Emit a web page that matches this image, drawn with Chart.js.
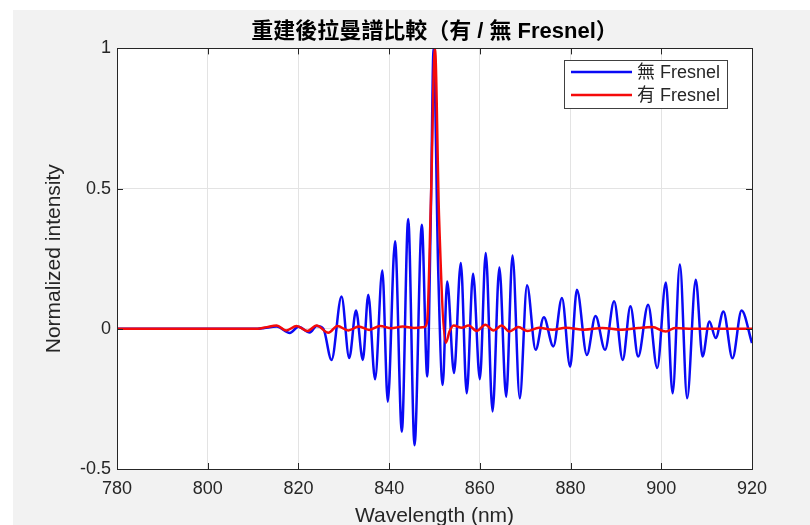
<!DOCTYPE html>
<html>
<head>
<meta charset="utf-8">
<script src="https://cdn.jsdelivr.net/npm/chart.js@4.4.1/dist/chart.umd.min.js"></script>
<style>
  html, body { margin: 0; padding: 0; background: #fff; }
  canvas { display: block; }
</style>
</head>
<body>
<canvas id="chart" width="810" height="525"></canvas>
<script>
// 無 Fresnel (blue): turning points
const noFresnelWl = [
  780, 811, 812.5, 815.2, 818.1, 820, 822.5, 824, 825.5,
  827.3, 829.5, 831.2, 832.7, 834.2, 835.4, 836.9, 838.5, 839.7, 841.3,
  842.8, 844.2, 845.6, 847.2, 848.4, 849.2, 849.8, 850.8, 851.8,
  852.8, 854.3, 855.8, 857.1, 858.5, 860, 861.3, 862.8, 864.3, 865.8,
  867.2, 868.8, 870.4, 872.3, 874.1, 876.2, 878.1, 879.9, 881.4, 883.6,
  885.5, 887.6, 889.6, 891.5, 893.2, 894.9, 897.1, 899.1, 901.0, 902.5,
  904.1, 905.7, 907.6, 909.1, 910.6, 912.0, 913.7, 915.7, 917.7, 920
];
const noFresnelVal = [
  0, 0, 0.003, 0.008, -0.015, 0.007, -0.013, 0.01, 0,
  -0.111, 0.115, -0.104, 0.065, -0.111, 0.121, -0.18, 0.208, -0.26, 0.312,
  -0.367, 0.392, -0.415, 0.371, -0.17, 0.42, 1.0, 0.22, -0.2,
  0.169, -0.158, 0.235, -0.23, 0.196, -0.18, 0.27, -0.295, 0.219, -0.242,
  0.261, -0.248, 0.155, -0.075, 0.041, -0.063, 0.110, -0.135, 0.139, -0.093,
  0.046, -0.075, 0.098, -0.111, 0.08, -0.099, 0.086, -0.14, 0.165, -0.23,
  0.229, -0.2475, 0.175, -0.099, 0.026, -0.033, 0.062, -0.105, 0.065, -0.051
];

// 有 Fresnel (red)
const withFresnelWl = [
  780, 811, 813, 815.2, 817.3, 819.6, 822, 824, 826.6, 828.6, 831, 833.3,
  835.6, 838, 840.5, 843, 845.5, 847.8, 848.4, 849.2, 850.1, 851.0, 852.5,
  853.3, 854.2, 856, 857.5, 859.3, 861.2, 863, 864.8, 866.5, 868.5, 870.5,
  873, 876, 879, 883, 887, 891, 895, 898, 901, 903, 907, 920
];
const withFresnelVal = [
  0, 0, 0.006, 0.012, -0.006, 0.01, -0.008, 0.012, -0.014, 0.01, -0.006, 0.008,
  -0.004, 0.01, 0.002, 0.008, 0.003, 0.006, 0.03, 0.45, 1.0, 0.4, -0.05,
  -0.01, 0.012, 0.004, 0.012, -0.008, 0.014, -0.006, 0.012, -0.01, 0.006, -0.008,
  0.004, -0.003, 0.004, -0.003, 0.003, -0.003, 0.003, 0.006, -0.01, 0.003, 0, 0
];

const xTicks = [780, 800, 820, 840, 860, 880, 900, 920];
const yTicks = [-0.5, 0, 0.5, 1];
const seriesNames = ['無 Fresnel', '有 Fresnel'];
const seriesColors = ['#0a0af5', '#f50a0a'];
const chartTitle = '重建後拉曼譜比較（有 / 無 Fresnel）';

const FONT = "'Liberation Sans', Arial, 'Noto Sans CJK TC', sans-serif";
const AXIS = '#262626';

const toPoints = (xs, ys) => xs.map((x, i) => ({ x: x, y: ys[i] }));

// figure background, axes box, inward tick marks and the boxed legend
const matlabFrame = {
  id: 'matlabFrame',
  beforeDraw(chart) {
    const { ctx, chartArea: a } = chart;
    ctx.save();
    ctx.fillStyle = '#ffffff';
    ctx.fillRect(0, 0, chart.width, chart.height);
    ctx.fillStyle = '#f2f2f2';
    ctx.fillRect(13, 10, chart.width - 13, chart.height - 10);
    ctx.fillStyle = '#ffffff';
    ctx.fillRect(a.left, a.top, a.right - a.left, a.bottom - a.top);
    ctx.restore();
  },
  afterDatasetsDraw(chart) {
    const { ctx, chartArea: a, scales } = chart;
    ctx.save();
    ctx.strokeStyle = AXIS;
    ctx.lineWidth = 1;
    ctx.beginPath();
    xTicks.forEach(v => {
      const px = Math.round(scales.x.getPixelForValue(v)) + 0.5;
      ctx.moveTo(px, a.bottom); ctx.lineTo(px, a.bottom - 6);
      ctx.moveTo(px, a.top); ctx.lineTo(px, a.top + 6);
    });
    yTicks.forEach(v => {
      const py = Math.round(scales.y.getPixelForValue(v)) + 0.5;
      ctx.moveTo(a.left, py); ctx.lineTo(a.left + 6, py);
      ctx.moveTo(a.right, py); ctx.lineTo(a.right - 6, py);
    });
    ctx.stroke();
    ctx.strokeRect(Math.round(a.left) + 0.5, Math.round(a.top) + 0.5,
      Math.round(a.right - a.left), Math.round(a.bottom - a.top));

    // legend
    const lx = Math.round(a.right) - 188, ly = Math.round(a.top) + 12;
    ctx.fillStyle = '#ffffff';
    ctx.fillRect(lx, ly, 163, 48);
    ctx.strokeStyle = '#404040';
    ctx.strokeRect(lx + 0.5, ly + 0.5, 163, 48);
    ctx.font = '18px ' + FONT;
    ctx.textBaseline = 'middle';
    seriesNames.forEach((name, i) => {
      const y = ly + 12 + i * 23;
      ctx.strokeStyle = seriesColors[i];
      ctx.lineWidth = 2.5;
      ctx.beginPath();
      ctx.moveTo(lx + 7, y); ctx.lineTo(lx + 68, y);
      ctx.stroke();
      ctx.fillStyle = AXIS;
      ctx.fillText(name, lx + 73, y + 1);
    });
    ctx.restore();
  }
};

new Chart(document.getElementById('chart'), {
  type: 'line',
  data: {
    datasets: [
      {
        label: seriesNames[0],
        data: toPoints(noFresnelWl, noFresnelVal),
        borderColor: seriesColors[0],
        borderWidth: 2.5,
        cubicInterpolationMode: 'monotone',
        pointRadius: 0,
        order: 2
      },
      {
        label: seriesNames[1],
        data: toPoints(withFresnelWl, withFresnelVal),
        borderColor: seriesColors[1],
        borderWidth: 2.5,
        cubicInterpolationMode: 'monotone',
        pointRadius: 0,
        order: 1
      }
    ]
  },
  options: {
    responsive: false,
    animation: false,
    devicePixelRatio: 1,
    layout: { padding: { left: 0, right: 58, top: 0, bottom: 0 } },
    plugins: {
      legend: { display: false },
      tooltip: { enabled: false },
      title: {
        display: true,
        text: chartTitle,
        fullSize: false,
        color: '#000000',
        font: { family: FONT, size: 22, weight: 'bold' },
        padding: { top: 19, bottom: 3 }
      }
    },
    scales: {
      x: {
        type: 'linear',
        min: 780,
        max: 920,
        afterBuildTicks: s => { s.ticks = xTicks.map(v => ({ value: v })); },
        afterFit: s => { s.height = 56; },
        grid: { color: '#e3e3e3', drawTicks: false },
        border: { display: false },
        ticks: { color: AXIS, padding: 9, font: { family: FONT, size: 18 } },
        title: {
          display: true,
          text: 'Wavelength (nm)',
          color: AXIS,
          font: { family: FONT, size: 21, lineHeight: 0.8 },
          padding: 0
        }
      },
      y: {
        min: -0.5,
        max: 1,
        afterBuildTicks: s => { s.ticks = yTicks.map(v => ({ value: v })); },
        afterFit: s => { s.width = 117; },
        grid: { color: '#e3e3e3', drawTicks: false },
        border: { display: false },
        ticks: {
          color: AXIS,
          padding: 6,
          font: { family: FONT, size: 18 },
          callback: v => String(v)
        },
        title: {
          display: true,
          text: 'Normalized intensity',
          color: AXIS,
          font: { family: FONT, size: 21 },
          padding: { top: 42, bottom: 0 }
        }
      }
    }
  },
  plugins: [matlabFrame]
});
</script>
</body>
</html>
